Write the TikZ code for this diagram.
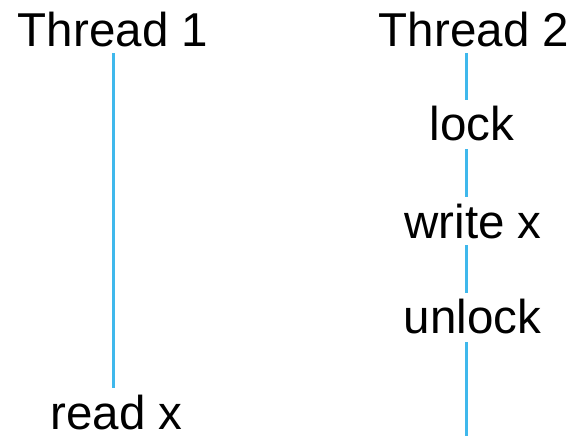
\documentclass[tikz,border=0pt]{standalone}
\usepackage{fontspec}
\setmainfont{Liberation Sans}
\definecolor{lifeline}{HTML}{3FB8EC}
\tikzset{
  lbl/.style={anchor=base, inner sep=0pt, font=\fontsize{47.5}{57}\selectfont, text=black},
  lifeln/.style={draw=lifeline, line width=3pt}
}
\begin{document}
\begin{tikzpicture}[x=1pt,y=1pt]
\useasboundingbox (0,0) rectangle (577,-436);
% labels
\node[lbl] (t1) at (113,-46.5) {Thread 1};
\node[lbl] (t2) at (474,-46.5) {Thread 2};
\node[lbl] (lock) at (472,-140.5) {lock};
\node[lbl] (wx) at (473,-238) {write x};
\node[lbl] (ul) at (472.5,-333) {unlock};
\node[lbl] (rx) at (116.5,-429.5) {read x};
% lifeline points
\coordinate (p1a) at (113,-53);
\coordinate (p1b) at (113,-388);
\coordinate (q0) at (466.5,-53);
\coordinate (q1) at (466.5,-100);
\coordinate (q2) at (466.5,-149);
\coordinate (q3) at (466.5,-197);
\coordinate (q4) at (466.5,-245);
\coordinate (q5) at (466.5,-293);
\coordinate (q6) at (466.5,-342);
\coordinate (q7) at (466.5,-436);
\draw[lifeln] (p1a) -- (p1b);
\draw[lifeln] (q0) -- (q1);
\draw[lifeln] (q2) -- (q3);
\draw[lifeln] (q4) -- (q5);
\draw[lifeln] (q6) -- (q7);
\end{tikzpicture}
\end{document}
